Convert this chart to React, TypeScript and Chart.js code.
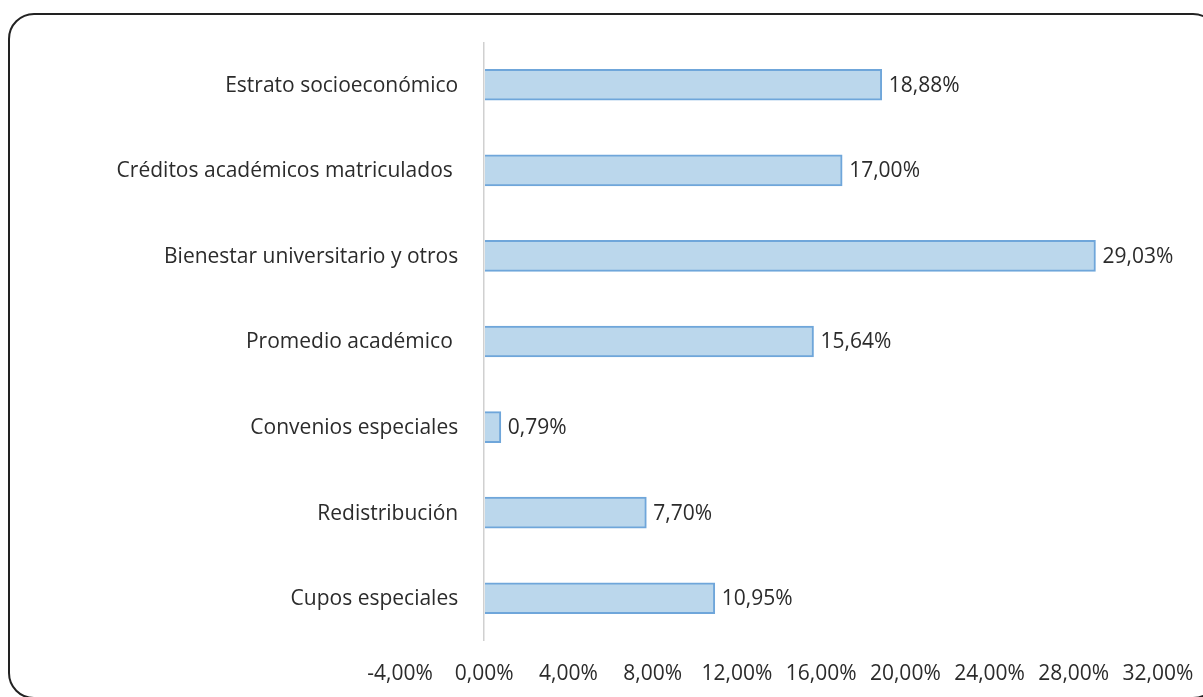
import React, { useEffect, useRef } from "react";
import { Chart, registerables } from "chart.js";

Chart.register(...registerables);

const categories = [
  "Estrato socioeconómico",
  "Créditos académicos matriculados ",
  "Bienestar universitario y otros",
  "Promedio académico ",
  "Convenios especiales",
  "Redistribución",
  "Cupos especiales",
];
const values = [18.88, 17.0, 29.03, 15.64, 0.79, 7.7, 10.95];
const xMin = -4;
const xMax = 32;
const xStep = 4;

const FONT = "'Open Sans', sans-serif";
const TEXT = "#2b2b2b";

const fmt = (v: number) => v.toFixed(2).replace(".", ",") + "%";

export default function App() {
  const ref = useRef<HTMLCanvasElement | null>(null);
  useEffect(() => {
    if (!ref.current) return;
    const labelsPlugin = {
      id: "customLabels",
      afterDatasetsDraw(chart: any) {
        const ctx = chart.ctx;
        const xs = chart.scales.x;
        const ys = chart.scales.y;
        ctx.save();
        ctx.fillStyle = TEXT;
        ctx.textBaseline = "middle";
        ctx.font = `21px ${FONT}`;
        ctx.textAlign = "right";
        const x0 = xs.getPixelForValue(0);
        categories.forEach((c, i) => {
          ctx.fillText(c, x0 - 26, ys.getPixelForValue(i) + 1);
        });
        ctx.textAlign = "left";
        const meta = chart.getDatasetMeta(0);
        meta.data.forEach((bar: any, i: number) => {
          ctx.fillText(fmt(values[i]), bar.x + 7, bar.y + 1);
        });
        ctx.restore();
      },
    };
    const chart = new Chart(ref.current, {
      type: "bar",
      data: {
        labels: categories,
        datasets: [
          {
            data: values,
            backgroundColor: "#BBD7EC",
            borderColor: "#6FA6DA",
            borderWidth: 2,
            borderSkipped: "start",
            barThickness: 31,
          },
        ],
      },
      options: {
        indexAxis: "y",
        animation: false,
        responsive: false,
        maintainAspectRatio: false,
        layout: { padding: { left: 400, right: 45, top: 42, bottom: 0 } },
        plugins: {
          legend: { display: false },
          tooltip: { enabled: false },
        },
        scales: {
          y: { display: false },
          x: {
            min: xMin,
            max: xMax,
            ticks: {
              stepSize: xStep,
              color: TEXT,
              font: { family: FONT, size: 21 },
              padding: 20,
              maxRotation: 0,
              autoSkip: false,
              callback: (v: any) => fmt(Number(v)),
            },
            grid: {
              drawTicks: false,
              color: (c: any) => (c.tick && c.tick.value === 0 ? "#D0D0D0" : "rgba(0,0,0,0)"),
              lineWidth: 1.5,
            },
            border: { display: false },
            afterFit: (s: any) => {
              s.height = 56;
              s.paddingLeft = 0;
              s.paddingRight = 0;
            },
          },
        },
      },
      plugins: [labelsPlugin],
    });
    return () => chart.destroy();
  }, []);
  return (
    <div style={{ position: "fixed", left: 0, top: 0, width: 1203, height: 697, background: "#fff", overflow: "hidden" }}>
      <div
        style={{
          position: "absolute",
          left: 8,
          top: 13,
          width: 1211,
          height: 686,
          border: "2px solid #222",
          borderRadius: 26,
          boxSizing: "border-box",
        }}
      />
      <canvas ref={ref} width={1203} height={697} style={{ position: "absolute", left: 0, top: 0 }} />
    </div>
  );
}
